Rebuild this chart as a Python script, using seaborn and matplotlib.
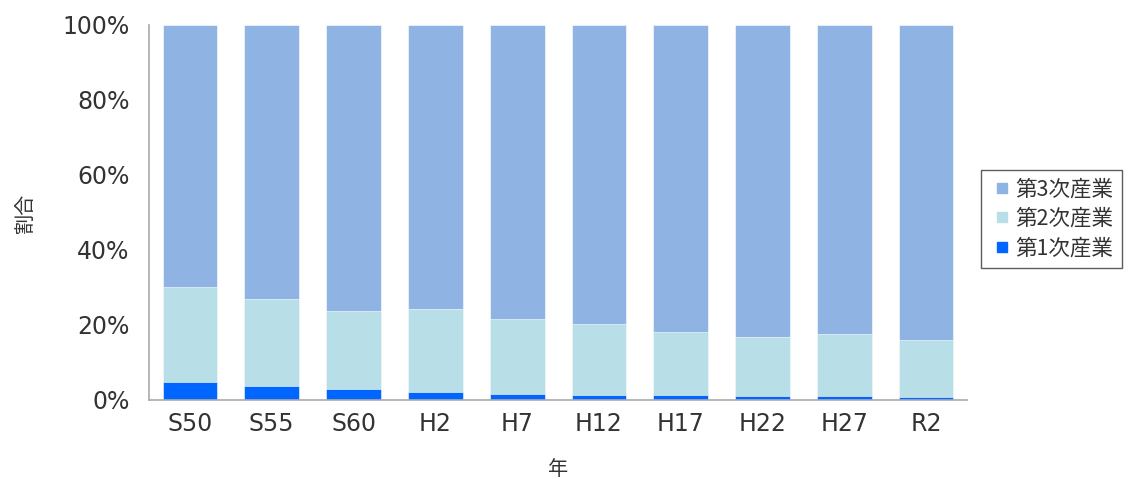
import matplotlib
matplotlib.use("Agg")
import matplotlib.pyplot as plt
import seaborn as sns
import numpy as np
import pandas as pd
from matplotlib.lines import Line2D
from matplotlib.ticker import FixedLocator

years = ["S50", "S55", "S60", "H2", "H7", "H12", "H17", "H22", "H27", "R2"]
primary = [4.7, 3.6, 2.8, 2.0, 1.7, 1.3, 1.2, 1.0, 1.0, 0.9]
secondary = [25.3, 23.2, 21.0, 22.3, 19.9, 19.0, 16.9, 15.8, 16.7, 15.0]
tertiary = [100 - p - s for p, s in zip(primary, secondary)]

labels = ["第1次産業", "第2次産業", "第3次産業"]
colors = ["#0066FF", "#B8DEE8", "#8FB3E3"]

sns.set_theme(style="white")
plt.rcParams["font.family"] = ["Noto Sans CJK JP", "DejaVu Sans"]

df = pd.DataFrame({"year": years, "p": primary, "s": secondary, "t": tertiary})
df["c2"] = df["p"] + df["s"]
df["c3"] = df["c2"] + df["t"]

fig = plt.figure(figsize=(11.29, 4.79), dpi=100)
ax = fig.add_axes([0.132, 0.165, 0.7245, 0.783])

for col, color in [("c3", colors[2]), ("c2", colors[1]), ("p", colors[0])]:
    sns.barplot(data=df, x="year", y=col, color=color, width=0.67,
                edgecolor="white", linewidth=0.4, ax=ax, saturation=1)

num_font = ["DejaVu Sans"]
txt_color = "#333333"
ax.set_xlim(-0.5, len(years) - 0.5)
ax.set_ylim(0, 100)
ax.set_yticks([0, 20, 40, 60, 80, 100])
ax.set_yticklabels([f"{v}%" for v in [0, 20, 40, 60, 80, 100]], fontsize=17,
                   color=txt_color, family=num_font)
ax.set_xticks(range(len(years)))
ax.set_xticklabels(years, fontsize=17, color=txt_color, family=num_font)
ax.xaxis.set_minor_locator(FixedLocator(np.arange(-0.5, len(years), 1.0)))
ax.tick_params(axis="x", which="major", length=0, pad=9)
ax.tick_params(axis="x", which="minor", length=5, direction="in", color="#aaaaaa", width=1)
ax.tick_params(axis="y", which="major", length=5, direction="in", color="#aaaaaa", width=1, pad=14)

for side in ["top", "right"]:
    ax.spines[side].set_visible(False)
for side in ["left", "bottom"]:
    ax.spines[side].set_color("#aaaaaa")
    ax.spines[side].set_linewidth(1.2)

ax.set_xlabel("年", fontsize=14.5, color=txt_color, labelpad=16)
ax.set_ylabel("割合", fontsize=14.5, color=txt_color, labelpad=19)

handles = [Line2D([0], [0], marker="s", linestyle="none", markersize=7,
                  markerfacecolor=c, markeredgecolor=c) for c in reversed(colors)]
leg = fig.legend(handles, list(reversed(labels)), loc="center left",
                 bbox_to_anchor=(0.8685, 0.543), fontsize=15.5, frameon=True,
                 fancybox=False, handletextpad=0.0, labelspacing=0.35,
                 borderpad=0.4, handlelength=1.2, borderaxespad=0)
leg.get_frame().set_edgecolor("#333333")
leg.get_frame().set_linewidth(1.0)
for t in leg.get_texts():
    t.set_color(txt_color)

fig.savefig("out.png", dpi=100)
